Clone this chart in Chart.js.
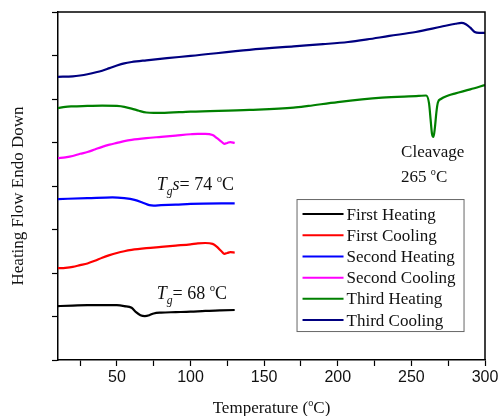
<!DOCTYPE html>
<html>
<head>
<meta charset="utf-8">
<script src="https://cdn.jsdelivr.net/npm/chart.js@4"></script>
<style>
  body { margin: 0; background: #fff; }
  #wrap { width: 499px; height: 416px; }
</style>
</head>
<body>
<div id="wrap"><canvas id="dscChart" width="499" height="416"></canvas></div>
<script>
// temperature (°C) and heat flow (arbitrary units, offset per run)
const firstHeatingT = [10, 20, 30, 40, 50, 55, 60, 63, 66, 69, 72, 75, 80, 90, 100, 110, 120, 130];
const firstHeatingHF = [1.24, 1.25, 1.26, 1.26, 1.26, 1.24, 1.2, 1.1, 1.03, 1.01, 1.03, 1.07, 1.09, 1.1, 1.11, 1.13, 1.14, 1.15];

const firstCoolingT = [10, 15, 20, 25, 30, 35, 40, 45, 50, 55, 60, 70, 80, 90, 100, 105, 110, 115, 118, 121, 123, 125, 127, 130];
const firstCoolingHF = [2.11, 2.12, 2.14, 2.18, 2.22, 2.28, 2.35, 2.41, 2.46, 2.5, 2.53, 2.57, 2.6, 2.63, 2.66, 2.68, 2.69, 2.67, 2.6, 2.5, 2.44, 2.46, 2.48, 2.47];

const secondHeatingT = [10, 30, 47, 55, 62, 68, 72, 75, 80, 90, 100, 130];
const secondHeatingHF = [3.7, 3.72, 3.74, 3.72, 3.68, 3.61, 3.56, 3.55, 3.56, 3.57, 3.59, 3.6];

const secondCoolingT = [10, 15, 20, 25, 30, 35, 40, 45, 50, 55, 60, 70, 80, 90, 100, 105, 110, 115, 118, 121, 123, 125, 127, 130];
const secondCoolingHF = [4.64, 4.66, 4.69, 4.74, 4.78, 4.84, 4.9, 4.95, 4.99, 5.03, 5.06, 5.1, 5.13, 5.16, 5.19, 5.2, 5.2, 5.17, 5.1, 5.02, 4.97, 4.99, 5.01, 4.99];

const thirdHeatingT = [10, 15, 20, 30, 40, 50, 55, 60, 65, 70, 75, 80, 100, 140, 170, 180, 200, 230, 255, 260, 262, 263, 264, 265, 266, 267, 268, 270, 275, 280, 290, 300];
const thirdHeatingHF = [5.79, 5.82, 5.83, 5.84, 5.85, 5.84, 5.82, 5.78, 5.73, 5.69, 5.68, 5.68, 5.71, 5.75, 5.8, 5.84, 5.93, 6.03, 6.07, 6.08, 5.9, 5.55, 5.2, 5.13, 5.35, 5.7, 5.92, 6.0, 6.08, 6.13, 6.22, 6.32];

const thirdCoolingT = [10, 20, 25, 30, 40, 45, 50, 55, 60, 70, 84, 100, 140, 170, 190, 207, 220, 235, 253, 270, 280, 284, 287, 290, 293, 296, 300];
const thirdCoolingHF = [6.51, 6.52, 6.54, 6.57, 6.65, 6.71, 6.77, 6.82, 6.85, 6.89, 6.94, 6.99, 7.13, 7.21, 7.26, 7.31, 7.37, 7.45, 7.54, 7.66, 7.73, 7.75, 7.72, 7.64, 7.54, 7.52, 7.52];

const runNames = ["First Heating", "First Cooling", "Second Heating", "Second Cooling", "Third Heating", "Third Cooling"];
const runColors = ["#000000", "#ff0000", "#0000ff", "#ff00ff", "#008000", "#000080"];
const runT = [firstHeatingT, firstCoolingT, secondHeatingT, secondCoolingT, thirdHeatingT, thirdCoolingT];
const runHF = [firstHeatingHF, firstCoolingHF, secondHeatingHF, secondCoolingHF, thirdHeatingHF, thirdCoolingHF];

const xTickValues = [25, 50, 75, 100, 125, 150, 175, 200, 225, 250, 275, 300];
const yTickValues = [0, 1, 2, 3, 4, 5, 6, 7, 8];

const serif = '"Liberation Serif", "DejaVu Serif", serif';
const sans = '"Liberation Sans", Arial, sans-serif';

// stile dei pezzi di testo: "" normale, "i" corsivo, "sub" pedice, "sup" apice
function partFont(kind, size) {
  if (kind === "i") return { font: "italic " + size + "px " + serif, dy: 0 };
  if (kind === "sub") return { font: "italic " + size * 0.65 + "px " + serif, dy: size * 0.3 };
  if (kind === "sup") return { font: size * 0.6 + "px " + serif, dy: -size * 0.42 };
  return { font: size + "px " + serif, dy: 0 };
}

function richWidth(ctx, parts, size) {
  let w = 0;
  parts.forEach(([txt, kind]) => {
    ctx.font = partFont(kind, size).font;
    w += ctx.measureText(txt).width;
  });
  return w;
}

function drawRich(ctx, x, y, parts, size) {
  let cx = x;
  parts.forEach(([txt, kind]) => {
    const f = partFont(kind, size);
    ctx.font = f.font;
    ctx.fillText(txt, cx, y + f.dy);
    cx += ctx.measureText(txt).width;
  });
}

const framePlugin = {
  id: "frame",
  afterDraw(chart) {
    const ctx = chart.ctx;
    const a = chart.chartArea;
    const xs = chart.scales.x;
    const ys = chart.scales.y;
    ctx.save();

    // cornice sopra e a destra
    ctx.strokeStyle = "#000";
    ctx.lineWidth = 1.5;
    ctx.beginPath();
    ctx.moveTo(a.left, a.top);
    ctx.lineTo(a.right, a.top);
    ctx.lineTo(a.right, a.bottom);
    ctx.stroke();

    ctx.fillStyle = "#111";
    ctx.textBaseline = "alphabetic";

    // titolo asse x
    const xParts = [["Temperature (", ""], ["o", "sup"], ["C)", ""]];
    const xw = richWidth(ctx, xParts, 17);
    drawRich(ctx, (a.left + a.right) / 2 - xw / 2, 413, xParts, 17);

    // titolo asse y
    ctx.save();
    ctx.translate(23, 196);
    ctx.rotate(-Math.PI / 2);
    ctx.font = "17px " + serif;
    ctx.textAlign = "center";
    ctx.fillText("Heating Flow Endo Down", 0, 0);
    ctx.restore();

    // annotazioni
    drawRich(ctx, xs.getPixelForValue(77), 190,
      [["T", "i"], ["g", "sub"], ["s", "i"], ["= 74 ", ""], ["o", "sup"], ["C", ""]], 18);
    drawRich(ctx, xs.getPixelForValue(77), 299,
      [["T", "i"], ["g", "sub"], ["= 68 ", ""], ["o", "sup"], ["C", ""]], 18);
    drawRich(ctx, xs.getPixelForValue(243), 157, [["Cleavage", ""]], 17);
    drawRich(ctx, xs.getPixelForValue(243), 182, [["265 ", ""], ["o", "sup"], ["C", ""]], 17);

    // legenda
    const lx = xs.getPixelForValue(172);
    const ly = ys.getPixelForValue(3.7);
    const lw = 167;
    const lh = 132;
    ctx.fillStyle = "#fff";
    ctx.fillRect(lx, ly, lw, lh);
    ctx.strokeStyle = "#666";
    ctx.lineWidth = 1;
    ctx.strokeRect(lx + 0.5, ly + 0.5, lw, lh);
    runNames.forEach((name, i) => {
      const ry = ly + 15 + i * 21.2;
      ctx.strokeStyle = runColors[i];
      ctx.lineWidth = 2;
      ctx.beginPath();
      ctx.moveTo(lx + 6, ry);
      ctx.lineTo(lx + 47, ry);
      ctx.stroke();
      ctx.fillStyle = "#111";
      ctx.font = "17px " + serif;
      ctx.textBaseline = "middle";
      ctx.fillText(name, lx + 50, ry + 1);
    });
    ctx.restore();
  },
};

function init() {
  const datasets = runNames.map((name, i) => ({
    label: name,
    data: runT[i].map((t, j) => ({ x: t, y: runHF[i][j] })),
    borderColor: runColors[i],
    backgroundColor: runColors[i],
    borderWidth: 2.2,
    pointRadius: 0,
    cubicInterpolationMode: "monotone",
    fill: false,
  }));

  const config = {
    type: "line",
    data: { datasets: datasets },
    options: {
      responsive: false,
      animation: false,
      layout: { padding: { top: 12, right: 14, left: 0, bottom: 0 } },
      plugins: {
        legend: { display: false },
        tooltip: { enabled: false },
      },
      scales: {
        x: {
          type: "linear",
          min: 10,
          max: 300,
          afterBuildTicks: (scale) => {
            scale.ticks = xTickValues.map((v) => ({ value: v }));
          },
          afterFit: (scale) => {
            scale.height = 56;
            scale.paddingLeft = 0;
            scale.paddingRight = 0;
          },
          border: { color: "#000", width: 1.5 },
          grid: { drawOnChartArea: false, color: "#000", tickLength: 6, tickWidth: 1.2 },
          ticks: {
            color: "#111",
            font: { family: sans, size: 16 },
            padding: 2,
            maxRotation: 0,
            autoSkip: false,
            callback: (v) => (v % 50 === 0 ? String(v) : ""),
          },
        },
        y: {
          type: "linear",
          min: 0,
          max: 8,
          afterBuildTicks: (scale) => {
            scale.ticks = yTickValues.map((v) => ({ value: v }));
          },
          afterFit: (scale) => {
            scale.width = 58;
            scale.paddingTop = 0;
            scale.paddingBottom = 0;
          },
          border: { color: "#000", width: 1.5 },
          grid: { drawOnChartArea: false, color: "#000", tickLength: 6, tickWidth: 1.2 },
          ticks: { callback: () => "" },
        },
      },
    },
    plugins: [framePlugin],
  };

  new Chart(document.getElementById("dscChart").getContext("2d"), config);
}

init();
</script>
</body>
</html>
